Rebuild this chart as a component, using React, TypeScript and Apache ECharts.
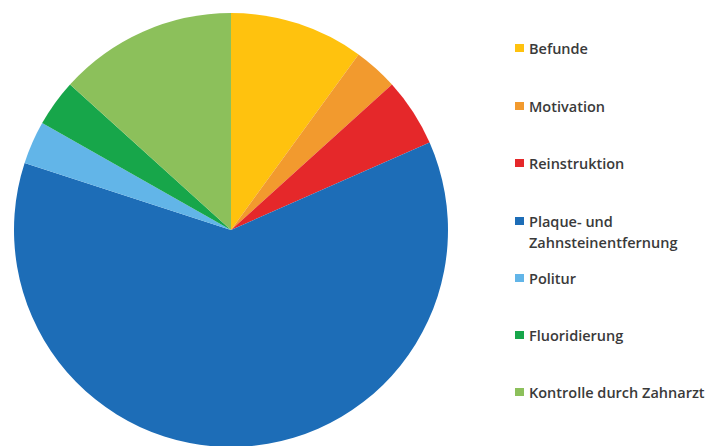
import React, { useEffect, useRef } from "react";
import * as echarts from "echarts";

const categories = [
  "Befunde",
  "Motivation",
  "Reinstruktion",
  "Plaque- und Zahnsteinentfernung",
  "Politur",
  "Fluoridierung",
  "Kontrolle durch Zahnarzt",
];
const values = [10.0, 3.3, 5.1, 61.6, 3.2, 3.5, 13.3];
const colors = ["#FFC20E", "#F29A2E", "#E5282A", "#1D6DB7", "#62B5E8", "#17A64A", "#8CC05B"];
const legendCenters = [48, 106, 163, 221, 278, 335, 392];
const legendFirstLine: Record<string, string> = {
  "Plaque- und Zahnsteinentfernung": "Plaque- und",
};
const legendSecondLine = "Zahnsteinentfernung";

export default function App() {
  const ref = useRef<HTMLDivElement>(null);
  useEffect(() => {
    document.body.style.margin = "0";
    const chart = echarts.init(ref.current!, null, { renderer: "svg" });
    const fontSize = 14.5;
    const textStyle = {
      fontFamily: "Open Sans",
      fontWeight: 600,
      fontSize,
      color: "#3a3a3a",
      lineHeight: 16,
    };
    const legends = categories.map((name, i) => ({
      show: true,
      orient: "vertical",
      left: 515,
      top: legendCenters[i] - 8,
      padding: 0,
      itemWidth: 9,
      itemHeight: 8,
      itemGap: 0,
      icon: "rect",
      selectedMode: false,
      data: [name],
      formatter: (n: string) => legendFirstLine[n] ?? n,
      textStyle,
    }));
    const plaqueIdx = categories.findIndex((c) => legendFirstLine[c]);
    chart.setOption({
      animation: false,
      color: colors,
      legend: legends,
      graphic: [
        {
          type: "text",
          left: 529,
          top: legendCenters[plaqueIdx] + 21 - 8,
          style: {
            text: legendSecondLine,
            font: `600 ${fontSize}px 'Open Sans'`,
            fill: "#3a3a3a",
            lineHeight: 16,
          },
        },
      ],
      series: [
        {
          type: "pie",
          center: [231, 230],
          radius: 217,
          startAngle: 90,
          clockwise: true,
          label: { show: false },
          labelLine: { show: false },
          emphasis: { disabled: true },
          itemStyle: { borderWidth: 0 },
          data: categories.map((name, i) => ({ name, value: values[i] })),
        },
      ],
    });
    return () => chart.dispose();
  }, []);
  return <div ref={ref} style={{ width: 709, height: 446 }} />;
}
